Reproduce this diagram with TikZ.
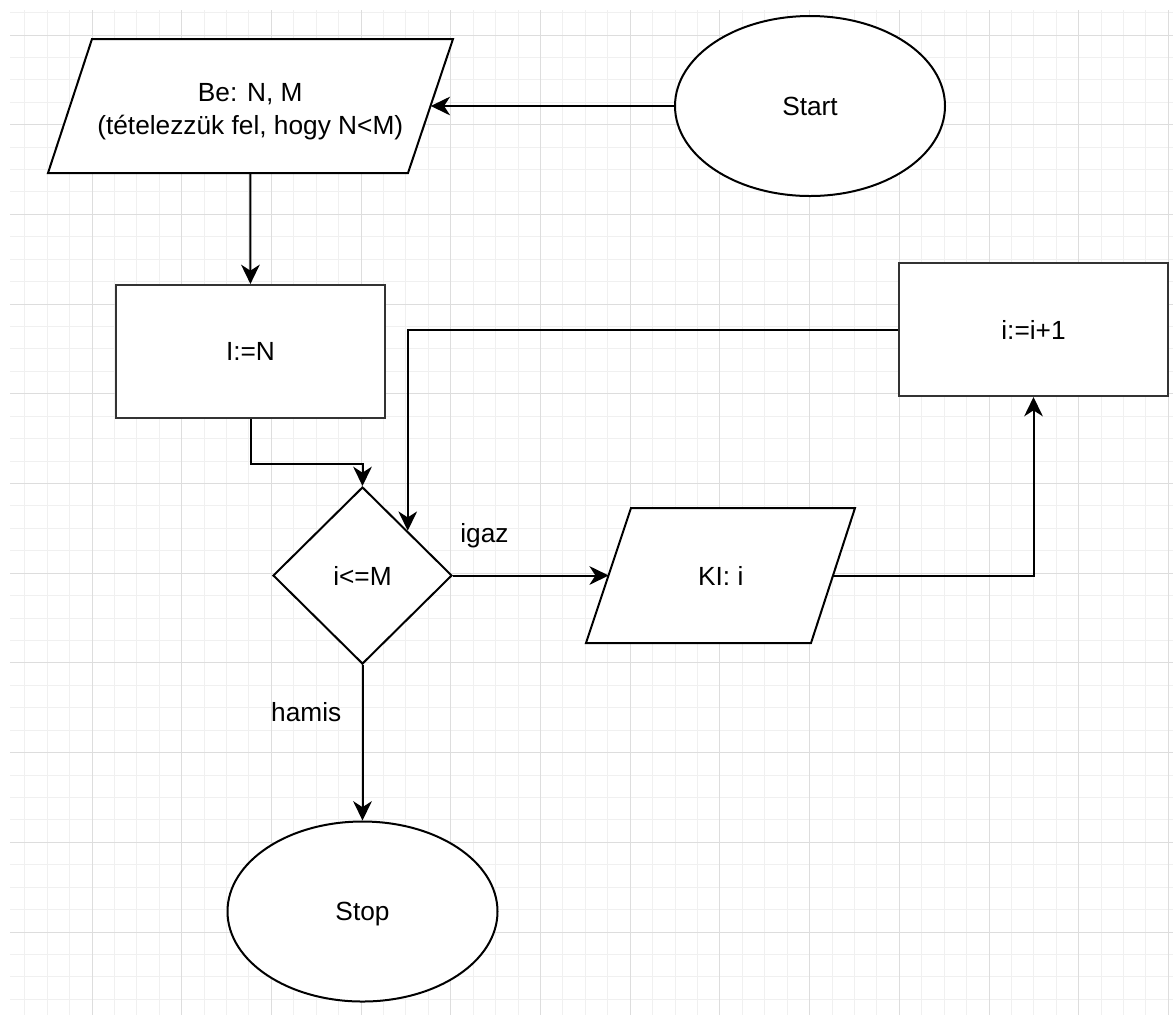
\documentclass[tikz,border=0pt]{standalone}
\usepackage{fontspec}
\setmainfont{Liberation Sans}
\usetikzlibrary{shapes.geometric, arrows.meta, positioning, calc}
\definecolor{gridminor}{HTML}{F0F0F0}
\definecolor{gridmajor}{HTML}{DDDDDD}
\definecolor{edgegray}{HTML}{333333}
\tikzset{ term/.style = { ellipse
                        , draw
                        , line width     = 1.5pt
                        , fill           = white
                        , inner sep      = 0pt
                        , text depth     = 0pt
                        , minimum width  = 202.5pt
                        , minimum height = 135pt
                        },
          proc/.style = { rectangle
                        , draw           = edgegray
                        , line width     = 1.5pt
                        , fill           = white
                        , inner sep      = 0pt
                        , minimum width  = 201.75pt
                        , minimum height = 99.75pt
                        },
          cond/.style = { diamond
                        , draw
                        , line width     = 1.5pt
                        , fill           = white
                        , inner sep      = 0pt
                        , minimum width  = 134.25pt
                        , minimum height = 132.75pt
                        },
            io/.style = { rectangle
                        , inner sep      = 0pt
                        , outer sep      = 0pt
                        , align          = center
                        },
       ioframe/.style = { draw
                        , fill           = white
                        , line width     = 1.5pt
                        , line join      = miter
                        },
           lbl/.style = { inner sep = 0pt
                        },
           arr/.style = { -{Stealth[length=14.5pt, width=14pt, inset=4.5pt]}
                        , line width = 1.5pt
                        }
        }
\begin{document}
\begin{tikzpicture}[x=0.75pt, y=-0.75pt, font=\fontsize{19.7pt}{24.75pt}\selectfont]
    \useasboundingbox (0,0) rectangle (1173,1015);
    \fill[white] (0,0) rectangle (1173,1015);
    % grid
    \begin{scope}
        \clip (10,10) rectangle (1173,1015);
        \foreach \k in {0,...,52}
            \draw[gridminor, line width=0.75pt] ({2.3+22.425*\k},0) -- ({2.3+22.425*\k},1015);
        \foreach \k in {-1,...,44}
            \draw[gridminor, line width=0.75pt] (0,{35+22.425*\k}) -- (1173,{35+22.425*\k});
        \foreach \k in {0,...,13}
            \draw[gridmajor, line width=0.75pt] ({2.3+89.7*\k},0) -- ({2.3+89.7*\k},1015);
        \foreach \k in {-1,...,11}
            \draw[gridmajor, line width=0.75pt] (0,{35+89.7*\k}) -- (1173,{35+89.7*\k});
    \end{scope}

    % slanted in/out boxes, the nodes sit on their middle line
    \path[ioframe] (48,173) -- (408,173) -- (453,39) -- (92,39) -- cycle;
    \path[ioframe] (586,643) -- (811,643) -- (855,508) -- (631,508) -- cycle;

    \node[term] (start) at (810,106) {Start};
    \node[io, minimum width=270.75pt, minimum height=100.5pt] (be) at (250.25,106) {};
    \node[lbl, align=center] (betext) at ([yshift=-4.1pt]be.center)
        {Be: N, M\\(tételezzük fel, hogy N<M)};
    \node[proc] (init) at (250.5,351.5) {I:=N};
    \node[cond] (test) at (362.5,575.5) {i<=M};
    \node[io, minimum width=168pt, minimum height=101.25pt] (out) at (720.75,575.5) {KI: i};
    \node[proc] (incr) at (1033.5,329.5) {i:=i+1};
    \node[term] (stop) at (362.5,911.5) {Stop};

    \node[lbl, above right=20.6pt and 5.3pt of test.east] (yes) {igaz};
    \node[lbl, below left=27.75pt and 15.75pt of test.south] (no) {hamis};

    \draw[arr] (start) -- (be);
    \draw[arr] (be) -- (init);
    \draw[arr] (init.south) -- ++(0,45) -| (test.north);
    \draw[arr] (test) -- (out);
    \draw[arr] (out.east) -| (incr.south);
    \draw[arr] (incr.west) -| ($(test.north)!0.5!(test.east)$);
    \draw[arr] (test) -- (stop);
\end{tikzpicture}
\end{document}
